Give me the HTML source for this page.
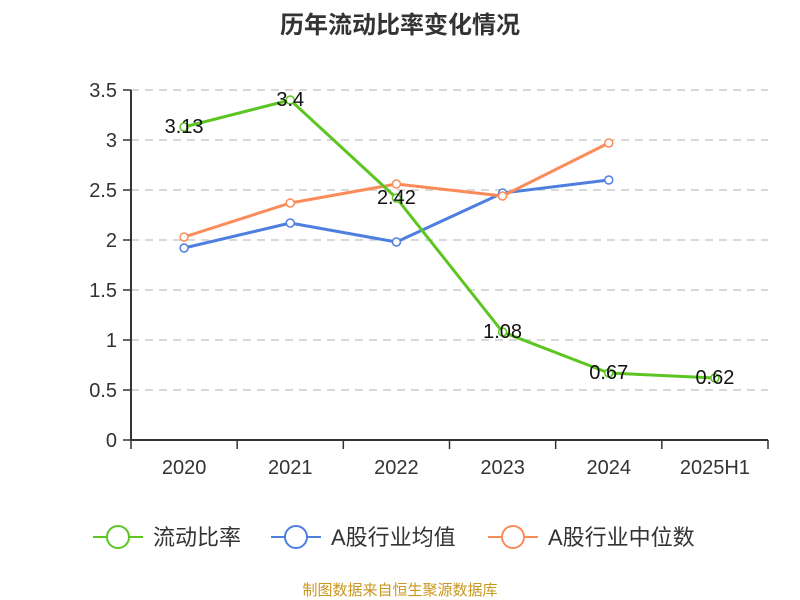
<!DOCTYPE html>
<html><head><meta charset="utf-8"><style>
body{margin:0;background:#fff;}
svg{display:block;font-family:"Liberation Sans","Noto Sans CJK SC",sans-serif;}
</style></head><body>
<svg id="c" width="800" height="600">
<text x="400" y="33" text-anchor="middle" font-size="24" font-weight="bold" fill="#333">历年流动比率变化情况</text>
<g id="grid"></g><g id="axes"></g><g id="series"></g><g id="legend"></g>
<text x="400" y="595" text-anchor="middle" font-size="15" fill="#c9971f">制图数据来自恒生聚源数据库</text>
</svg>
<script>
const categories=["2020","2021","2022","2023","2024","2025H1"];
const ratioValues=[3.13,3.4,2.42,1.08,0.67,0.62];
const avgValues=[1.92,2.17,1.98,2.47,2.6];
const medianValues=[2.03,2.37,2.56,2.44,2.97];
const yTicks=[0,0.5,1,1.5,2,2.5,3,3.5];
const seriesNames=["流动比率","A股行业均值","A股行业中位数"];
const NS="http://www.w3.org/2000/svg";
const L=131,R=768,T=90,B=440,ymax=3.5;
const bw=(R-L)/categories.length;
const xs=i=>L+bw*(i+0.5);
const ys=v=>B-(v/ymax)*(B-T);
function mk(tag,attrs,parent,text){const e=document.createElementNS(NS,tag);for(const k in attrs)e.setAttribute(k,attrs[k]);if(text!==undefined)e.textContent=text;parent.appendChild(e);return e;}
const grid=document.getElementById('grid'),axes=document.getElementById('axes'),ser=document.getElementById('series'),leg=document.getElementById('legend');
yTicks.forEach(t=>{const y=ys(t);
 if(t>0){const g=mk('line',{x1:L,x2:R,y1:y,y2:y,stroke:'#ccc','stroke-dasharray':'8,6','stroke-width':1.5},grid);
 
 }
 const tk=mk('line',{x1:L-8,x2:L,y1:y,y2:y,stroke:'#333','stroke-width':1.5},axes);
 
 
 const lb=mk('text',{x:L-14,y:y+7,'text-anchor':'end','font-size':20,fill:'#333'},axes,String(t));
 
 
});
const ya=mk('line',{x1:L,x2:L,y1:T,y2:B,stroke:'#333','stroke-width':2},axes);


const xa=mk('line',{x1:L,x2:R,y1:B,y2:B,stroke:'#333','stroke-width':2},axes);


for(let i=0;i<=categories.length;i++){const x=L+bw*i;const tk=mk('line',{x1:x,x2:x,y1:B,y2:B+9,stroke:'#333','stroke-width':1.5},axes);
 
 }
categories.forEach((c,i)=>{const t=mk('text',{x:xs(i),y:B+34,'text-anchor':'middle','font-size':20,fill:'#333'},axes,c);
 
 });
function drawSeries(vals,color,name,labels){
 const g=mk('g',{},ser);
 
 
 const pts=vals.map((v,i)=>xs(i)+','+ys(v)).join(' ');
 mk('polyline',{points:pts,fill:'none',stroke:color,'stroke-width':3,'stroke-linejoin':'round'},g);
 vals.forEach((v,i)=>{const c=mk('circle',{cx:xs(i),cy:ys(v),r:4,fill:'#fff',stroke:color,'stroke-width':1.5},g);
  
  });
 if(labels)vals.forEach((v,i)=>{const t=mk('text',{x:xs(i),y:ys(v)+6,'text-anchor':'middle','font-size':20,fill:'#111'},g,String(v));
  
  });
}
drawSeries(avgValues,'#4e7fe0','series-industry-average',false);
drawSeries(medianValues,'#fb8c5a','series-industry-median',false);
drawSeries(ratioValues,'#5cc522','series-current-ratio',true);
const colors=['#5cc522','#4e7fe0','#fb8c5a'];
const lx=[93,271,488];
seriesNames.forEach((n,i)=>{const g=mk('g',{},leg);
 
 
 const x=lx[i],y=537;
 mk('line',{x1:x,x2:x+50,y1:y,y2:y,stroke:colors[i],'stroke-width':2},g);
 mk('circle',{cx:x+25,cy:y,r:11,fill:'#fff',stroke:colors[i],'stroke-width':2},g);
 mk('text',{x:x+60,y:y+8,'font-size':22,fill:'#333'},g,n);
});
</script>
</body></html>
